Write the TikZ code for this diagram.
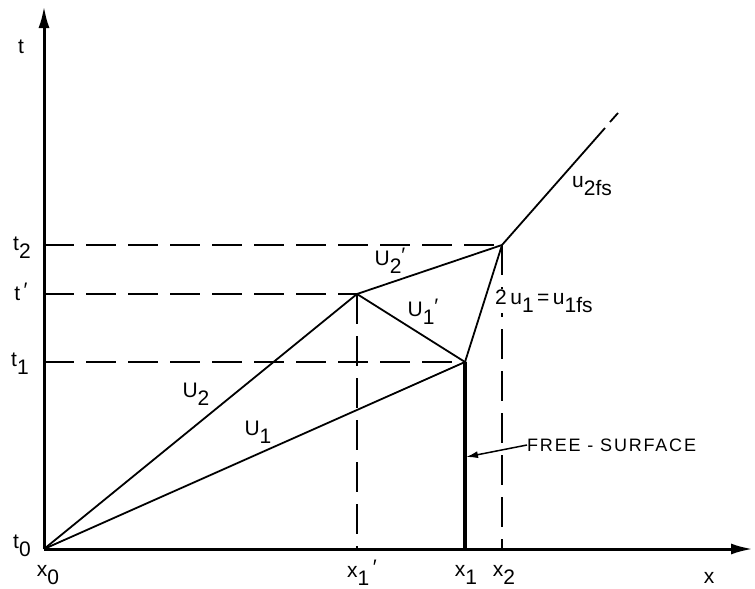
\documentclass[tikz,border=0pt]{standalone}
\usepackage{fontspec}
\setmainfont{Liberation Sans}
\newfontfamily\spacedfont[LetterSpace=10]{Liberation Sans}
\usetikzlibrary{arrows.meta}
\newcommand{\lo}[1]{\raisebox{-0.38em}{#1}}
\newcommand{\pr}{\raisebox{0.15em}{′}}
\begin{document}
\begin{tikzpicture}[x=1pt,y=-1pt,
  axisline/.style={line width=3pt,-{Latex[length=22pt,width=11pt]}},
  curve/.style={line width=1.8pt},
  guide/.style={line width=1.6pt,dash pattern=on 30pt off 12pt},
  lbl/.style={font=\fontsize{21}{24}\selectfont,inner sep=1pt},
  every node/.style={inner sep=0pt}]
\useasboundingbox (0,0) rectangle (755,589);
% points
\coordinate (O) at (44,549);
\coordinate (Yt) at (44,6);
\coordinate (Xe) at (753,549);
\coordinate (B) at (465,362);
\coordinate (C) at (357,294);
\coordinate (D) at (502,245);
\coordinate (Es) at (605,128);
\coordinate (Ea) at (610,122);
\coordinate (E) at (618,113);
\coordinate (Cx) at (357,549);
\coordinate (Bx) at (465,549);
\coordinate (Dx) at (502,549);
\coordinate (Dy) at (44,245);
\coordinate (Cy) at (44,294);
\coordinate (By) at (44,362);
% guide lines
\draw[guide] (Dy) -- (D);
\draw[guide] (Cy) -- (C);
\draw[guide] (By) -- (B);
\draw[guide] (C) -- (Cx);
\draw[guide] (D) -- (Dx);
% axes
\draw[axisline] (O) -- (Yt);
\draw[axisline] (O) -- (Xe);
% characteristic lines
\draw[curve] (O) -- (C) -- (D) -- (Es);
\draw[curve] (Ea) -- (E);
\draw[curve] (O) -- (B) -- (C);
\draw[curve] (B) -- (D);
\draw[line width=3.4pt] (B) -- (Bx);
% labels
\node[lbl] (lt) at (21,47) {t};
\node[lbl] (lt2) at (22,248) {t\lo{2}};
\node[lbl] (ltp) at (21,292) {t\,\pr};
\node[lbl] (lt1) at (20,364) {t\lo{1}};
\node[lbl] (lt0) at (22,546) {t\lo{0}};
\node[lbl] (lx0) at (48,575) {x\lo{0}};
\node[lbl] (lx1p) at (362,573) {x\lo{1}\,\pr};
\node[lbl] (lx1) at (466,575) {x\lo{1}};
\node[lbl] (lx2) at (504,575) {x\lo{2}};
\node[lbl] (lx) at (709,578) {x};
\node[lbl] (lU2) at (196,394) {U\lo{2}};
\node[lbl] (lU1) at (258,432) {U\lo{1}};
\node[lbl] (lU2p) at (390,261) {U\lo{2}\pr};
\node[lbl] (lU1p) at (423,312) {U\lo{1}\pr};
\node[lbl,fill=white,anchor=west] (lfs1) at (494,301) {2\,u\lo{1}\,=\,u\lo{1fs}};
\node[lbl] (lfs2) at (592,186) {u\lo{2fs}};
\node[font=\fontsize{18}{21}\selectfont\spacedfont,anchor=west] (lfree) at (527,445) {FREE - SURFACE};
\draw[line width=1.5pt,-{Latex[length=12pt,width=7pt]}] (lfree.west) -- (466,457);
\end{tikzpicture}
\end{document}
